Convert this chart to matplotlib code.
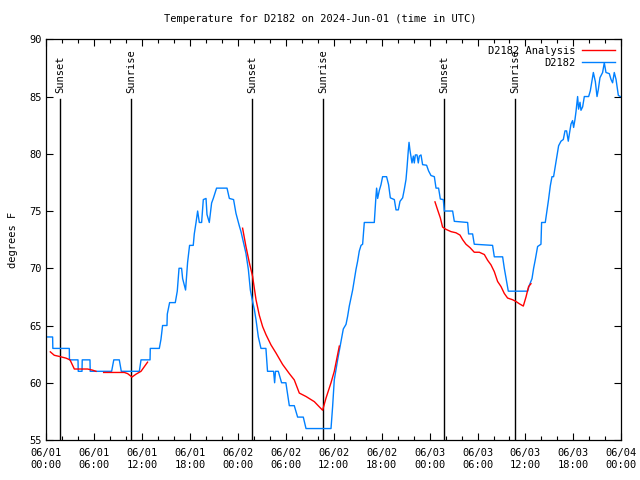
import matplotlib
matplotlib.use("Agg")
import matplotlib.pyplot as plt
import numpy as np
from matplotlib.ticker import MultipleLocator, FixedLocator

# Observations (hours since 2024-06-01 00:00 UTC, degrees F)
obs_hours = [0.0, 0.79, 0.82, 2.88, 2.9, 3.97, 4.0, 4.47, 4.5, 5.47, 5.5, 8.18, 8.45, 9.14, 9.39, 11.65, 11.86, 12.99, 13.02, 14.15,
             14.36, 14.56, 15.11, 15.15, 15.44, 16.15, 16.4, 16.62, 16.94, 17.07, 17.32, 17.44, 17.69, 17.94, 18.4, 18.53, 18.75,
             18.95, 19.16, 19.45, 19.66, 20.0, 20.12, 20.41, 20.7, 20.91, 21.32, 22.63, 22.92, 23.45, 23.75, 24.17, 24.38, 25.0,
             25.3, 25.55, 25.83, 26.05, 26.26, 26.55, 26.88, 27.5, 27.7, 28.46, 28.59, 28.7, 29.05, 29.46, 30.0, 30.43, 31.05,
             31.47, 32.18, 32.52, 35.65, 35.85, 36.06, 36.48, 36.8, 37.19, 37.53, 37.73, 37.94, 38.15, 38.36, 38.57, 38.78, 38.98,
             39.19, 39.41, 39.61, 39.82, 41.07, 41.28, 41.36, 41.49, 41.7, 41.91, 42.11, 42.61, 42.86, 43.08, 43.58, 43.79, 44.08,
             44.29, 44.62, 44.83, 45.04, 45.17, 45.33, 45.42, 45.54, 45.79, 45.96, 46.08, 46.21, 46.42, 46.58, 46.71, 46.92, 47.12,
             47.62, 47.87, 48.17, 48.59, 48.8, 49.12, 49.34, 49.71, 49.84, 50.88, 51.09, 52.76, 52.88, 53.38, 53.59, 55.88, 56.1,
             57.14, 57.35, 57.56, 57.85, 60.27, 60.48, 60.82, 61.02, 61.23, 61.52, 61.94, 62.02, 62.48, 62.69, 62.89, 63.11, 63.32,
             63.52, 63.73, 63.95, 64.15, 64.45, 64.74, 64.95, 65.15, 65.36, 65.49, 65.7, 65.9, 66.03, 66.2, 66.33, 66.53, 66.65,
             66.83, 66.95, 67.16, 67.37, 67.91, 68.12, 68.5, 68.75, 68.96, 69.12, 69.33, 69.66, 69.87, 70.08, 70.5, 70.71, 70.91,
             71.12, 71.34, 71.54, 71.63, 71.88]
obs_temps = [64, 64, 63, 63, 62, 62, 61, 61, 62, 62, 61, 61, 62, 62, 61, 61, 62, 62, 63, 63,
             63.8, 65, 65, 66, 67, 67, 68, 70, 70, 69.1, 68.4, 68.1, 70.5, 72, 72, 73, 74,
             75, 74, 74, 76, 76.1, 74.7, 74, 75.7, 76.1, 77, 77, 76.1, 76, 74.8, 73.7, 73.2, 71.3,
             69.9, 68.1, 67.1, 66.4, 65.5, 64.0, 63, 63, 61, 61, 60, 61, 61, 60, 60, 58, 58,
             57, 57, 56, 56, 57.9, 60.25, 62, 63.2, 64.7, 65.1, 65.8, 66.7, 67.4, 68.1, 69, 69.9, 70.6,
             71.5, 72, 72.1, 74, 74, 76.3, 77, 76.1, 76.8, 77.3, 78, 78, 77.3, 76.15, 76, 75.1, 75.1,
             75.85, 76.15, 76.9, 77.75, 78.8, 80.3, 81, 80.3, 79.2, 79.8, 79.2, 79.9, 79.9, 79.2, 79.8, 79.9, 79.05,
             79, 78.5, 78.1, 78, 77, 77, 76.05, 76, 75, 75, 74.1, 74, 73, 73, 72.1, 72, 71,
             71, 70, 69.15, 68, 68, 68.5, 69.1, 70, 70.75, 71.9, 72.1, 74, 74, 75, 76, 77.2, 78,
             78, 78.9, 79.8, 80.7, 81.1, 81.25, 82, 82, 81.1, 81.7, 82.6, 82.9, 82.3, 83, 83.7, 85, 83.9,
             84.5, 83.8, 84.1, 85, 85, 85.5, 87.1, 86.3, 85, 85.6, 86.65, 87.1, 87.95, 87.1, 87, 86.5, 86.2,
             87.1, 86.5, 85.5, 85.1, 85]

# Analysis (NaN separates segments)
ana_hours = [0.5, 1.0, 1.63, 2.47, 2.97, 3.51, 4.13, 5.17, 5.8, 6.22, 6.7, 7.18, 9.77, 10.18, 10.73, 11.23, 11.86, 12.68, 18.0,
             24.58, 25.0, 25.42, 25.83, 26.26, 26.67, 27.09, 27.51, 28.14, 28.76, 29.59, 30.43, 31.05, 31.68, 32.52, 33.56,
             34.18, 34.6, 35.02, 35.65, 36.06, 36.69, 42.0,
             48.67, 49.0, 49.34, 49.62, 50.05, 50.68, 51.3, 51.8, 52.13, 52.55, 53.06, 53.59, 54.22, 54.85, 55.26, 55.68,
             56.1, 56.51, 56.94, 57.35, 57.76, 58.39, 58.81, 59.23, 59.73, 60.07, 60.39, 60.69]
ana_temps = [62.7, 62.4, 62.3, 62.15, 62.0, 61.2, 61.2, 61.2, 61.1, 61.0, np.nan, 60.9, 60.9, 60.8, 60.5, 60.75, 61.0, 61.8, np.nan,
             73.5, 71.9, 70.5, 69.3, 67.25, 65.9, 64.9, 64.2, 63.3, 62.6, 61.6, 60.8, 60.25, 59.1, 58.8, 58.35,
             57.9, 57.6, 58.65, 60.0, 61.0, 63.2, np.nan,
             75.8, 75.1, 74.4, 73.6, 73.4, 73.2, 73.1, 72.9, 72.5, 72.1, 71.8, 71.4, 71.4, 71.2, 70.7, 70.3,
             69.7, 68.85, 68.4, 67.8, 67.4, 67.25, 67.1, 66.9, 66.7, 67.5, 68.4, 68.65]

sun_hours = [1.75, 10.62, 25.78, 34.68, 49.82, 58.7]
sun_labels = ["Sunset", "Sunrise", "Sunset", "Sunrise", "Sunset", "Sunrise"]

tick_hours = [0, 6, 12, 18, 24, 30, 36, 42, 48, 54, 60, 66, 72]
tick_labels = ["06/01\n00:00", "06/01\n06:00", "06/01\n12:00", "06/01\n18:00",
               "06/02\n00:00", "06/02\n06:00", "06/02\n12:00", "06/02\n18:00",
               "06/03\n00:00", "06/03\n06:00", "06/03\n12:00", "06/03\n18:00",
               "06/04\n00:00"]

plt.rcParams['font.family'] = ['DejaVu Sans Mono']
plt.rcParams['font.size'] = 7

fig = plt.figure(figsize=(6.4, 4.8), dpi=100)
ax = fig.add_axes([46.3/640, 1-440/480, 575/640, (440-39.3)/480])

for h, lab in zip(sun_hours, sun_labels):
    ax.plot([h, h], [55, 84.8], color='black', lw=1.0, zorder=1)
    ax.text(h, 85.3, lab, rotation=90, ha='center', va='bottom', fontsize=7.5)

ax.plot(ana_hours, ana_temps, color='#ff0000', lw=1.0, label='D2182 Analysis', zorder=3)
ax.plot(obs_hours, obs_temps, color='#0080ff', lw=1.0, label='D2182', zorder=2)

ax.set_xlim(0, 72)
ax.set_ylim(55, 90)
ax.set_xticks(tick_hours)
ax.set_xticklabels(tick_labels)
ax.xaxis.set_minor_locator(MultipleLocator(2))
ax.set_yticks(range(55, 91, 5))
ax.tick_params(axis='both', which='both', direction='in', top=True, right=True, labelsize=7.5, width=0.8)
ax.tick_params(axis='both', which='major', length=5)
ax.tick_params(axis='x', which='minor', length=3)
ax.tick_params(axis='x', which='major', pad=6)
for s in ax.spines.values():
    s.set_linewidth(0.9)

ax.set_ylabel('degrees F', fontsize=7.5, labelpad=8)
fig.text(0.5, 1-19/480, 'Temperature for D2182 on 2024-Jun-01 (time in UTC)', ha='center', va='center', fontsize=7.5)

leg = ax.legend(loc='upper right', frameon=False, markerfirst=False, fontsize=7.5, handlelength=3.2,
                borderaxespad=0.2, labelspacing=0.2, handletextpad=0.6)
for t in leg.get_texts():
    t.set_ha('right')

fig.savefig('out.png', dpi=100)
